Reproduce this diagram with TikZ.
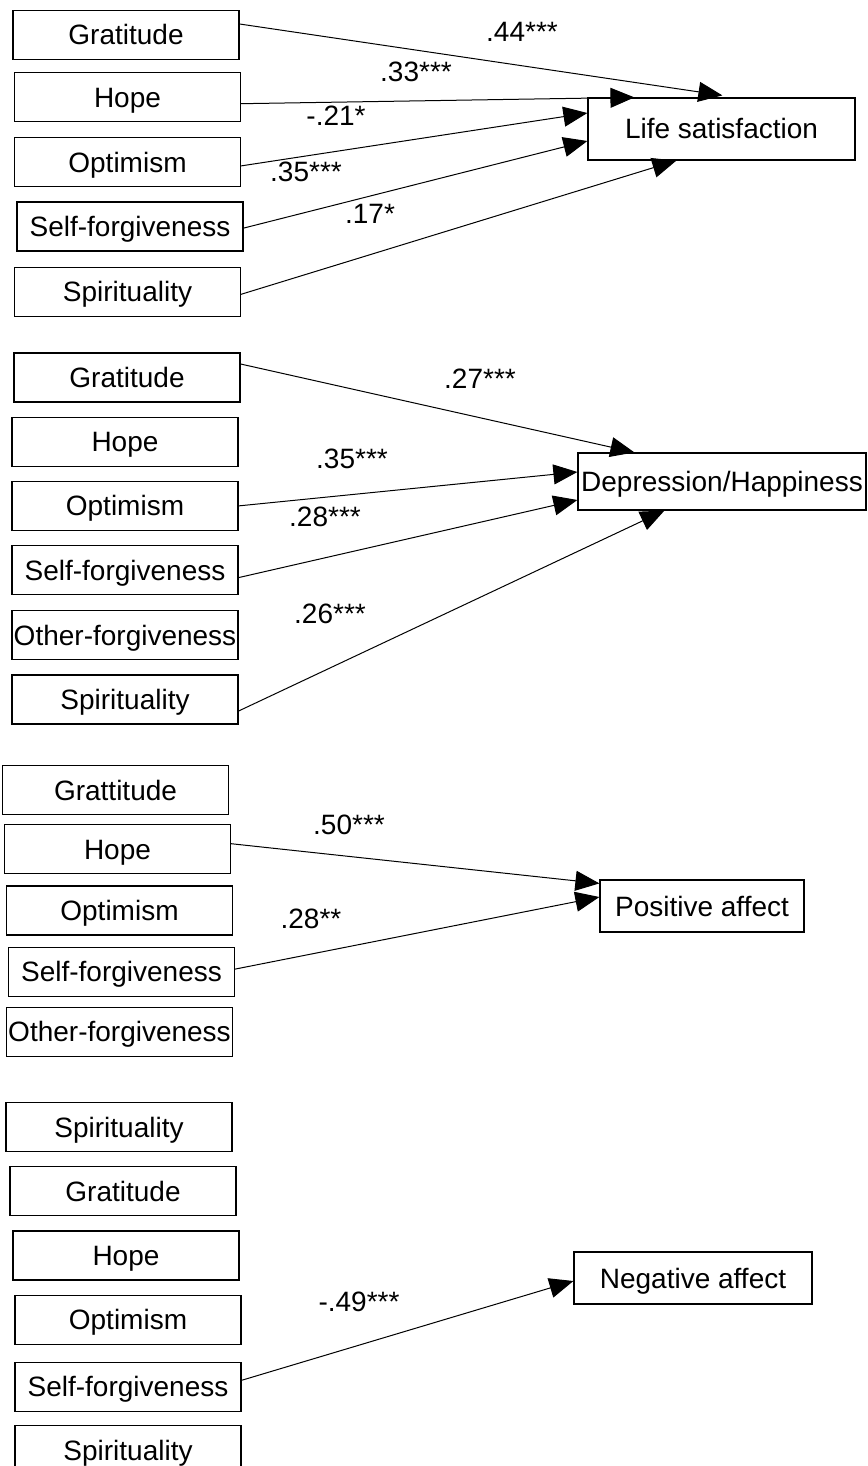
\documentclass[tikz,border=0pt]{standalone}
\usepackage{fontspec}
\setmainfont{Liberation Sans}
\usetikzlibrary{arrows.meta,positioning}
\tikzset{%
    >={Triangle[length=12pt,width=10pt]},
    every node/.style={font=\fontsize{14}{16}\selectfont,inner sep=0pt},
    var/.style={rectangle,draw,line width=0.6pt,minimum width=113pt,minimum height=24.5pt,
        text height=10pt,text depth=0pt},
    outcome/.style={var,minimum height=26pt},
    arr/.style={->,line width=0.5pt}
}

\begin{document}
\begin{tikzpicture}[x=0.5pt,y=-0.5pt,node distance=7pt]
            \useasboundingbox (0,0) rectangle (867,1466);
            %%%%% life satisfaction
            \node [var] (grat1) at (126,35) {Gratitude};
            \node [var,below=6pt of grat1,xshift=0.75pt] (hope1) {Hope};
            \node [var,below=7.5pt of hope1] (opt1) {Optimism};
            \node [var,below= of opt1,xshift=1.25pt] (self1) {Self-forgiveness};
            \node [var,below=7.5pt of self1,xshift=-1.25pt] (spir1) {Spirituality};
            \node [outcome,minimum width=133.5pt,minimum height=31pt] (ls) at (721.5,129) {Life satisfaction};
            \draw[arr] ([yshift=5.5pt]grat1.east) -- ([xshift=67.5pt,yshift=1pt]ls.north west);
            \draw[arr] ([yshift=-3.25pt]hope1.east) -- ([xshift=23.5pt]ls.north west);
            \draw[arr] ([yshift=-1.75pt]opt1.east) -- ([yshift=8pt]ls.west);
            \draw[arr] ([yshift=-0.75pt]self1.east) -- ([yshift=-6pt]ls.west);
            \draw[arr] ([yshift=-1.25pt]spir1.east) -- ([xshift=44.5pt]ls.south west);
            \node (l44) at (522,32) {.44***};
            \node (l33) at (416,72) {.33***};
            \node (l21) at (336,116) {-.21*};
            \node (l35) at (306,172) {.35***};
            \node (l17) at (370,214) {.17*};
            %%%%% depression/happiness
            \node [var] (grat2) at (127,377.5) {Gratitude};
            \node [var,below= of grat2,xshift=-1pt] (hope2) {Hope};
            \node [var,below= of hope2] (opt2) {Optimism};
            \node [var,below= of opt2] (self2) {Self-forgiveness};
            \node [var,below=7.5pt of self2] (other2) {Other-forgiveness};
            \node [var,below= of other2] (spir2) {Spirituality};
            \node [outcome,minimum width=144pt,minimum height=28.5pt] (dh) at (722,481.5) {Depression/Happiness};
            \draw[arr] ([yshift=6.75pt]grat2.east) -- ([xshift=28.5pt]dh.north west);
            \draw[arr] (opt2.east) -- ([yshift=4.75pt]dh.west);
            \draw[arr] ([yshift=-3.75pt]self2.east) -- ([yshift=-9.25pt]dh.west);
            \draw[arr] ([yshift=-5.75pt]spir2.east) -- ([xshift=43.5pt]dh.south west);
            \node (l27) at (480,379) {.27***};
            \node (l35b) at (352,459) {.35***};
            \node (l28) at (325,517) {.28***};
            \node (l26) at (330,614) {.26***};
            %%%%% positive affect
            \node [var] (grat3) at (115.5,790) {Grattitude};
            \node [var,below=4.5pt of grat3,xshift=1pt] (hope3) {Hope};
            \node [var,below=5.5pt of hope3,xshift=1pt] (opt3) {Optimism};
            \node [var,below=5.5pt of opt3,xshift=1pt] (self3) {Self-forgiveness};
            \node [var,below=5pt of self3,xshift=-1pt] (other3) {Other-forgiveness};
            \node [outcome,minimum width=102pt] (pa) at (702,906) {Positive affect};
            \draw[arr] ([yshift=2.75pt]hope3.east) -- ([yshift=-2pt]pa.north west);
            \draw[arr] ([yshift=1.25pt]self3.east) -- ([yshift=4.5pt]pa.west);
            \node (l50) at (349,825) {.50***};
            \node (l28b) at (311,919) {.28**};
            %%%%% negative affect
            \node [var] (spir4) at (119,1127) {Spirituality};
            \node [var,below= of spir4,xshift=2pt] (grat4) {Gratitude};
            \node [var,below= of grat4,xshift=1.5pt] (hope4) {Hope};
            \node [var,below= of hope4,xshift=1pt] (opt4) {Optimism};
            \node [var,below=8.5pt of opt4] (self4) {Self-forgiveness};
            \node [var,below=6.5pt of self4] (spir4b) {Spirituality};
            \node [outcome,minimum width=119pt] (na) at (693,1278) {Negative affect};
            \draw[arr] ([yshift=3.25pt]self4.east) -- ([yshift=-1.5pt]na.west);
            \node (l49) at (359,1302) {-.49***};
\end{tikzpicture}
\end{document}
